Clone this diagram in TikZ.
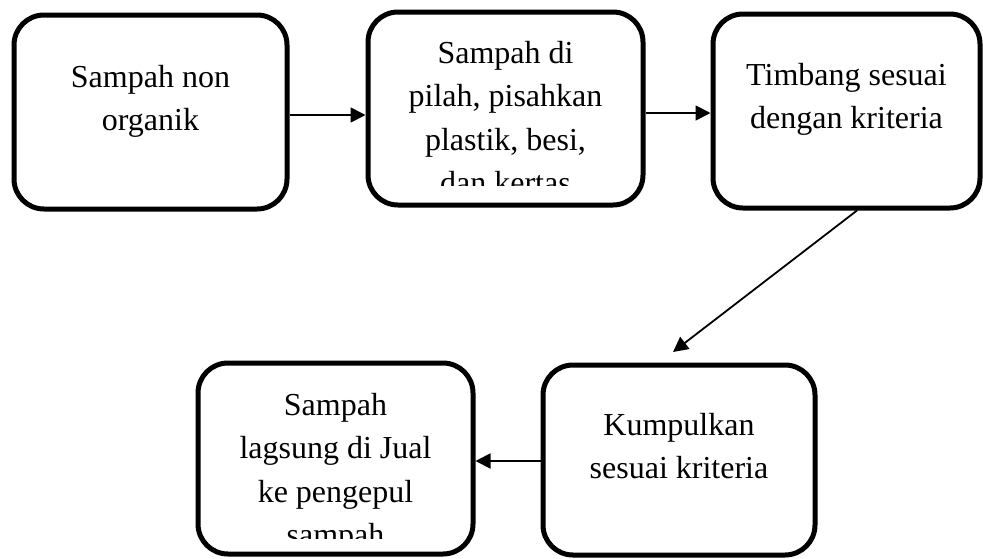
\documentclass[tikz,border=0pt]{standalone}
\usepackage{fontspec}
\setmainfont{Liberation Serif}
\usetikzlibrary{arrows.meta}

\tikzset{
  stepbox/.style={draw=black, line width=5pt, rounded corners=30pt,
    inner sep=0pt, outer sep=2.5pt},
  % anchor=base sits on the last line of a multi-line text
  boxtext/.style={anchor=base, align=center, inner sep=0pt,
    font=\fontsize{32}{43.5}\selectfont},
  flow/.style={line width=1.8pt, -{Triangle[length=15pt,width=15pt]}}
}

\begin{document}
\begin{tikzpicture}[x=1pt, y=-1pt]
  \useasboundingbox (0,0) rectangle (983,558);

  % process boxes
  \node[stepbox, minimum width=273pt, minimum height=194pt] (b1) at (150.5,112) {};
  \node[stepbox, minimum width=275pt, minimum height=193pt] (b2) at (505.5,108.5) {};
  \node[stepbox, minimum width=267pt, minimum height=194pt] (b3) at (846.5,111) {};
  \node[stepbox, minimum width=275pt, minimum height=191pt] (b4) at (335.5,458.5) {};
  \node[stepbox, minimum width=272pt, minimum height=190pt] (b5) at (679,460) {};

  % box texts (long texts are cut off by the text area)
  \node[boxtext] (t1) at (150.5,130.5) {Sampah non\\organik};
  \begin{scope}
    \clip (370,14) rectangle (641,185);
    \node[boxtext] (t2) at (505.5,193.5) {Sampah di\\pilah, pisahkan\\plastik, besi,\\dan kertas};
  \end{scope}
  \node[boxtext] (t3) at (846.5,128.5) {Timbang sesuai\\dengan kriteria};
  \begin{scope}
    \clip (200,365) rectangle (471,538);
    \node[boxtext] (t4) at (335.5,545.5) {Sampah\\lagsung di Jual\\ke pengepul\\sampah};
  \end{scope}
  \node[boxtext] (t5) at (679,478.5) {Kumpulkan\\sesuai kriteria};

  % connectors
  \coordinate (e3) at (673,352);
  \draw[flow] (b1.east |- 0,115) -- (b2.west |- 0,115);
  \draw[flow] (b2.east |- 0,113) -- (b3.west |- 0,113);
  \draw[flow] (b3.south -| 857,0) -- (e3);
  \draw[flow] (b5.west |- 0,461) -- (b4.east |- 0,461);
\end{tikzpicture}
\end{document}
